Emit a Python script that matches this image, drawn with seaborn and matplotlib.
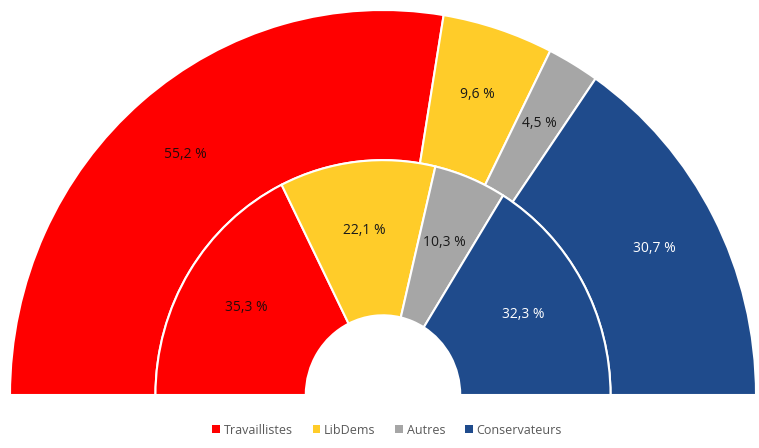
import numpy as np
import matplotlib
matplotlib.use("Agg")
import matplotlib.pyplot as plt
from matplotlib.patches import Wedge, Patch
import seaborn as sns

partis = ["Travaillistes", "LibDems", "Autres", "Conservateurs"]
exterieur = [55.2, 9.6, 4.5, 30.7]   # anneau externe (%)
interieur = [35.3, 22.1, 10.3, 32.3]  # anneau interne (%)
couleurs = ["#FF0000", "#FFCC29", "#A6A6A6", "#1F4B8C"]
couleurs_texte = ["#2a0a0a", "#1a1a1a", "#1a1a1a", "white"]

sns.set_theme(style="white")
plt.rcParams["font.family"] = ["Open Sans", "DejaVu Sans"]

fig = plt.figure(figsize=(7.59, 4.48), dpi=100)
ax = fig.add_axes([10 / 759, 53 / 448, 746 / 759, 385 / 448])
ax.set_xlim(-1, 1)
ax.set_ylim(0, 1)
ax.axis("off")


def anneau(valeurs, r_ext, largeur, r_lab):
    debut = 180.0
    for v, c, tc in zip(valeurs, couleurs, couleurs_texte):
        ang = v / 100 * 180
        ax.add_patch(Wedge((0, 0), r_ext, debut - ang, debut, width=largeur,
                           facecolor=c, edgecolor="white", linewidth=1.5))
        mid = np.radians(debut - ang / 2)
        ax.text(r_lab * np.cos(mid), r_lab * np.sin(mid),
                f"{v:.1f} %".replace(".", ","), ha="center", va="center",
                fontsize=10, color=tc)
        debut -= ang


anneau(exterieur, 1.0, 1.0 - 0.61, 0.82)
anneau(interieur, 0.61, 0.61 - 0.207, 0.43)

handles = [Patch(facecolor=c, edgecolor="none") for c in couleurs]
fig.legend(handles, partis, loc="center", bbox_to_anchor=(0.51, 1 - 430 / 448),
           ncol=4, frameon=False, fontsize=9, handlelength=0.6, handleheight=0.6,
           handletextpad=0.3, columnspacing=1.6, labelcolor="#595959")

fig.savefig("out.png", dpi=100)
plt.close(fig)
